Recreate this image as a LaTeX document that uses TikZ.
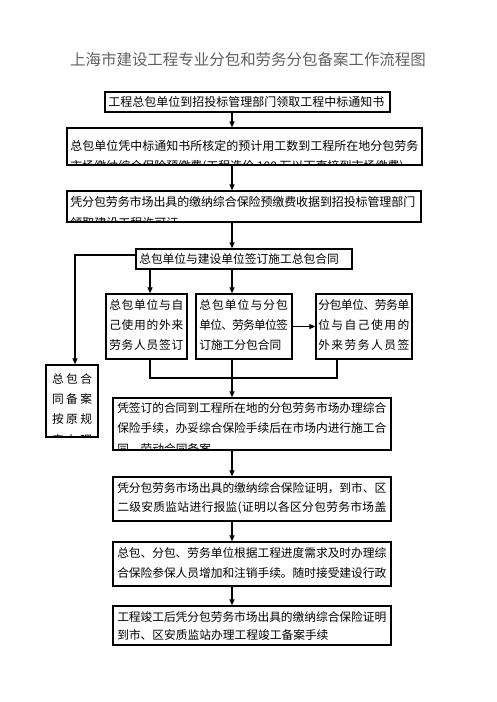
\documentclass[tikz,border=0pt]{standalone}
\usepackage{fontspec}
\setmainfont{Noto Sans CJK SC}
\usetikzlibrary{arrows.meta,fit}
\def\sprgap{\hskip 0pt plus 1fil minus 0.6pt}
\def\sprloop#1{#1\futurelet\sprnext\sprcheck}
\def\sprcheck{\ifx\sprnext\relax\expandafter\sprgobble\else\sprgap\expandafter\sprloop\fi}
\def\sprgobble#1{}
\newcommand\sprline[2]{\makebox[#1][s]{\sprloop#2\relax}}
\begin{document}
\begin{tikzpicture}[x=0.75pt,y=-0.75pt,
  box/.style={draw, line width=1pt, inner sep=0pt},
  txt/.style={anchor=west, inner sep=0pt, font=\fontsize{8.8}{10}\selectfont},
  txtc/.style={anchor=center, inner sep=0pt, font=\fontsize{8.8}{10}\selectfont},
  arr/.style={line width=0.8pt, -{Triangle[length=4.5pt,width=3.8pt]}},
  ln/.style={line width=0.8pt}]
\fill[white] (0,0) rectangle (496,702);
\useasboundingbox (0,0) rectangle (496,702);
% title
\node[inner sep=0pt, text=black!62, font=\fontsize{11.6}{13}\selectfont] (title) at (248,60) {上海市建设工程专业分包和劳务分包备案工作流程图};
% boxes
\node[box, fit={(105,92) (390,112)}] (b1) {};
\node[box, fit={(67,128) (422,165)}] (b2) {};
\node[box, fit={(67,191) (421,222)}] (b3) {};
\node[box, fit={(136,249) (352,269)}] (b4) {};
\node[box, fit={(46,365) (98,437)}] (b5) {};
\node[box, fit={(106,294) (187,359)}] (b6) {};
\node[box, fit={(196,294) (292,359)}] (b7) {};
\node[box, fit={(316,294) (412,359)}] (b8) {};
\node[box, fit={(113,398) (391,450)}] (b9) {};
\node[box, fit={(113,477) (391,521)}] (b10) {};
\node[box, fit={(113,542) (391,586)}] (b11) {};
\node[box, fit={(113,606) (391,645)}] (b12) {};
% texts
\node[txt, font=\fontsize{9}{10}\selectfont] (t1) at (108,102) {工程总包单位到招投标管理部门领取工程中标通知书};
\begin{scope}
\clip (b2.south west) rectangle (b2.north east);
\node[txt, font=\fontsize{9}{10}\selectfont] (t2a) at (70,146) {\sprline{261pt}{总包单位凭中标通知书所核定的预计用工数到工程所在地分包劳务}};
\node[txt, font=\fontsize{9}{10}\selectfont] (t2b) at (70,166.5) {市场缴纳综合保险预缴费(工程造价 100 万以下直接到市场缴费)};
\end{scope}
\begin{scope}
\clip (b3.south west) rectangle (b3.north east);
\node[txt, font=\fontsize{9}{10}\selectfont] (t3a) at (70,202) {\sprline{258.75pt}{凭分包劳务市场出具的缴纳综合保险预缴费收据到招投标管理部门}};
\node[txt, font=\fontsize{9}{10}\selectfont] (t3b) at (70,222.5) {领取建设工程许可证};
\end{scope}
\node[txt] (t4) at (139,259) {总包单位与建设单位签订施工总包合同};
\begin{scope}
\clip (b5.south west) rectangle (b5.north east);
\node[txtc] (t5a) at (72,379) {\sprline{30pt}{总包合}};
\node[txtc] (t5b) at (72,399) {\sprline{30pt}{同备案}};
\node[txtc] (t5c) at (72,419) {\sprline{30pt}{按原规}};
\node[txtc] (t5d) at (72,440) {\sprline{30pt}{定办理}};
\end{scope}
\node[txt] (t6a) at (109,305) {\sprline{55.5pt}{总包单位与自}};
\node[txt] (t6b) at (109,325) {\sprline{55.5pt}{己使用的外来}};
\node[txt] (t6c) at (109,345) {\sprline{55.5pt}{劳务人员签订}};
\node[txt] (t7a) at (199,305) {\sprline{66.5pt}{总包单位与分包}};
\node[txt] (t7b) at (199,325) {\sprline{66.5pt}{单位、劳务单位签}};
\node[txt] (t7c) at (199,345) {订施工分包合同};
\node[txt] (t8a) at (318,305) {\sprline{68.25pt}{分包单位、劳务单}};
\node[txt] (t8b) at (318,325) {\sprline{68.25pt}{位与自己使用的}};
\node[txt] (t8c) at (318,345) {\sprline{68.25pt}{外来劳务人员签}};
\begin{scope}
\clip (b9.south west) rectangle (b9.north east);
\node[txt] (t9a) at (117,408) {\sprline{201.75pt}{凭签订的合同到工程所在地的分包劳务市场办理综合}};
\node[txt] (t9b) at (117,428) {\sprline{201.75pt}{保险手续，办妥综合保险手续后在市场内进行施工合}};
\node[txt] (t9c) at (117,449) {同，劳动合同备案};
\end{scope}
\node[txt] (t10a) at (117,488) {\sprline{201.75pt}{凭分包劳务市场出具的缴纳综合保险证明，到市、区}};
\node[txt] (t10b) at (117,508) {\sprline{201.75pt}{二级安质监站进行报监(证明以各区分包劳务市场盖}};
\node[txt] (t11a) at (117,553) {\sprline{201.75pt}{总包、分包、劳务单位根据工程进度需求及时办理综}};
\node[txt] (t11b) at (117,573) {\sprline{201.75pt}{合保险参保人员增加和注销手续。随时接受建设行政}};
\node[txt] (t12a) at (117,617) {\sprline{201.75pt}{工程竣工后凭分包劳务市场出具的缴纳综合保险证明}};
\node[txt] (t12b) at (117,635) {到市、区安质监站办理工程竣工备案手续};
% connectors
\coordinate (xm) at (232,0);
\coordinate (xl) at (150,0);
\coordinate (xr) at (337,0);
\coordinate (ym) at (0,378);
\draw[arr] (xm |- b1.south) -- (xm |- b2.north);
\draw[arr] (xm |- b2.south) -- (xm |- b3.north);
\draw[arr] (xm |- b3.south) -- (xm |- b4.north);
\draw[arr] ([yshift=3pt]b4.west) -| ([xshift=2.25pt]b5.north);
\draw[arr] (xl |- b4.south) -- (xl |- b6.north);
\draw[arr] (xm |- b4.south) -- (xm |- b7.north);
\draw[arr] (b7.east) -- (b8.west);
\draw[ln] (xl |- b6.south) -- (xl |- ym) -- (xr |- ym) -- (xr |- b8.south);
\draw[arr] (xm |- b7.south) -- (xm |- b9.north);
\draw[arr] (xm |- b9.south) -- (xm |- b10.north);
\draw[arr] (xm |- b10.south) -- (xm |- b11.north);
\draw[arr] (xm |- b11.south) -- (xm |- b12.north);
\end{tikzpicture}
\end{document}
